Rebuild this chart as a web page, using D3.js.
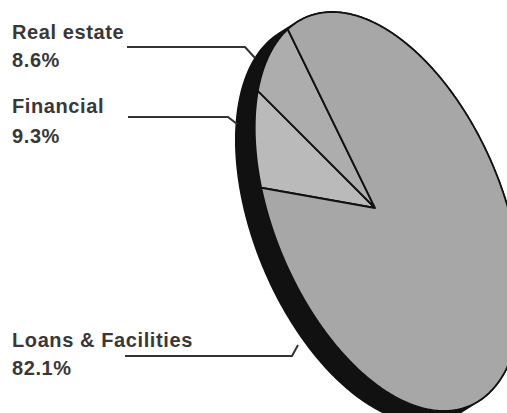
<!DOCTYPE html>
<html><head><meta charset="utf-8">
<script src="https://cdn.jsdelivr.net/npm/d3@7"></script>
<style>html,body{margin:0;padding:0;background:#fff;} svg{display:block}</style>
</head><body>
<script>
// Portfolio breakdown by sector
const categories = ["Financial", "Real estate", "Loans & Facilities"];
const shares = [9.3, 8.6, 82.1];
const shareLabels = ["9.3%", "8.6%", "82.1%"];
const fills = ["#bababa", "#adadad", "#a7a7a7"];

const W = 507, H = 413;
const svg = d3.select("body").append("svg").attr("width", W).attr("height", H);

// The disc is a unit circle seen in perspective: a projective map sends the
// circle onto a leaning ellipse and its centre to an off-centre hub.
const cx = 388, cy = 211.5, halfW = 121, halfH = 199.5, lean = 0.28;
const hub = [-0.0993, -0.0175];
const hr = Math.hypot(hub[0], hub[1]), alpha = Math.atan2(hub[1], hub[0]);
const ch = Math.cosh(Math.atanh(hr)), sh = Math.sinh(Math.atanh(hr));
const ca = Math.cos(alpha), sa = Math.sin(alpha);
function toScreen(x, y, dx = 0, dy = 0) {
  const xr = ca * x + sa * y, yr = -sa * x + ca * y;
  const w = sh * xr + ch;
  const xb = (ch * xr + sh) / w, yb = yr / w;
  const X = ca * xb - sa * yb, Y = sa * xb + ca * yb;
  return [cx + dx + halfW * X + lean * halfH * Y, cy + dy + halfH * Y];
}

// Dark side of the disc: hull of the face and the face pushed back by the disc depth
const depth = [-19, 12];
const rimPts = [];
for (let i = 0; i < 360; i += 1) {
  const t = i * Math.PI / 180;
  rimPts.push(toScreen(Math.cos(t), Math.sin(t)));
  rimPts.push(toScreen(Math.cos(t), Math.sin(t), depth[0], depth[1]));
}
const hull = d3.polygonHull(rimPts);
svg.append("path")
  .attr("d", "M" + hull.map(p => p.join(",")).join("L") + "Z")
  .attr("fill", "#111").attr("stroke", "#111").attr("stroke-width", 1.5)
  .attr("stroke-linejoin", "round");

// Face of the disc: pie angles, each wedge traced in the disc and projected
const start = 276.5 * Math.PI / 180;
const pie = d3.pie().sort(null).value(d => d).startAngle(start).endAngle(start + 2 * Math.PI);
function wedge(d) {
  const pts = [toScreen(0, 0)];
  const n = Math.max(2, Math.ceil((d.endAngle - d.startAngle) / (Math.PI / 360)));
  for (let i = 0; i <= n; i++) {
    const a = d.startAngle + (d.endAngle - d.startAngle) * i / n;
    pts.push(toScreen(Math.sin(a), -Math.cos(a)));
  }
  return d3.line()(pts) + "Z";
}
svg.append("g").selectAll("path").data(pie(shares)).join("path")
  .attr("d", wedge)
  .attr("fill", (d, i) => fills[i])
  .attr("stroke", "#111").attr("stroke-width", 1.8)
  .attr("stroke-linejoin", "round");

// Labels and leader lines
const labelLayout = [
  { name: 113, value: 143, leader: [[128, 117], [228, 117], [237, 124]] },
  { name: 39, value: 67, leader: [[127, 47], [245, 47], [255, 58]] },
  { name: 347, value: 375, leader: [[125, 356], [292, 356], [298, 345]] }
];
const labels = svg.append("g")
  .attr("font-family", "'Liberation Sans', Arial, Helvetica, sans-serif")
  .attr("font-weight", "bold").attr("font-size", 20).attr("fill", "#383838")
  .attr("letter-spacing", 0.6);
categories.forEach((c, i) => {
  const L = labelLayout[i];
  labels.append("text").attr("x", 12).attr("y", L.name).text(c);
  labels.append("text").attr("x", 12).attr("y", L.value).text(shareLabels[i]);
  svg.append("path")
    .attr("d", d3.line()(L.leader))
    .attr("fill", "none").attr("stroke", "#333").attr("stroke-width", 2);
});
</script>
</body></html>
